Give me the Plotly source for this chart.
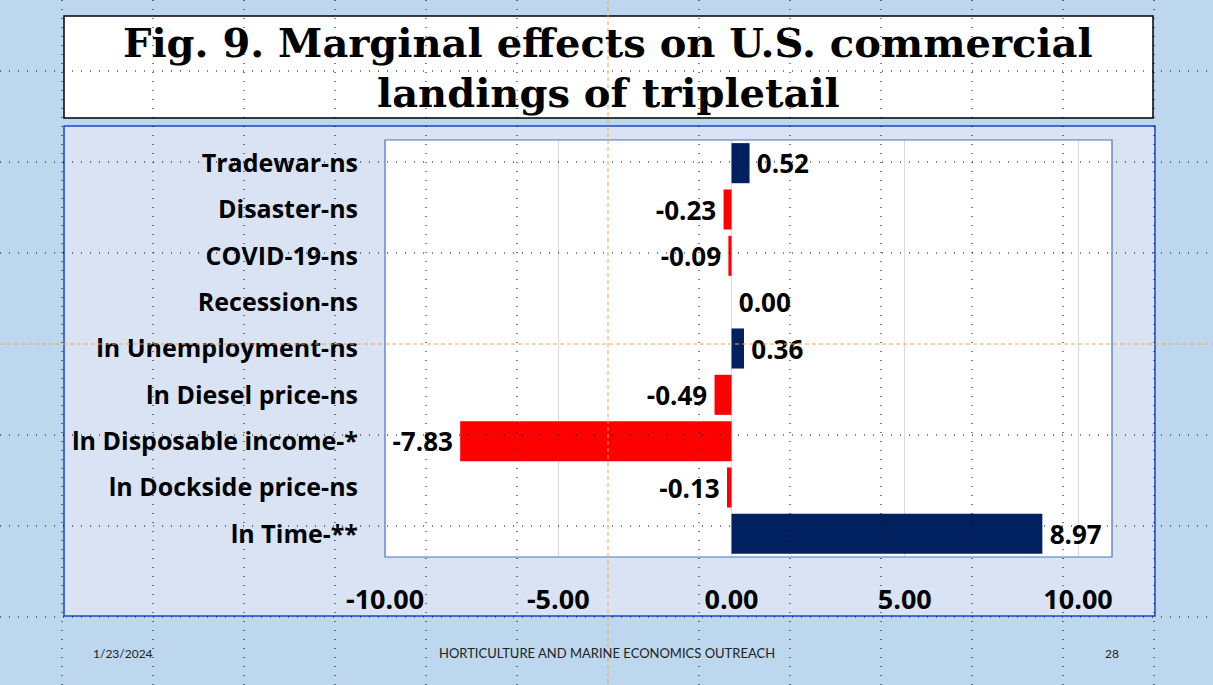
import plotly.graph_objects as go

categories = ["Tradewar-ns", "Disaster-ns", "COVID-19-ns", "Recession-ns",
              "ln Unemployment-ns", "ln Diesel price-ns", "ln Disposable income-*",
              "ln Dockside price-ns", "ln Time-**"]
values = [0.52, -0.23, -0.09, 0.00, 0.36, -0.49, -7.83, -0.13, 8.97]
x_ticks = [-10, -5, 0, 5, 10]
x_tick_labels = ["-10.00", "-5.00", "0.00", "5.00", "10.00"]
title_lines = ["Fig. 9. Marginal effects on U.S. commercial", "landings of tripletail"]
footer_date = "1/23/2024"
footer_center = "HORTICULTURE AND MARINE ECONOMICS OUTREACH"
footer_page = "28"

W, H = 1213, 685
PL, PR, PT, PB = 385, 1112, 140, 557

def fx(p):
    return (p - PL) / (PR - PL)

def fy(p):
    return (PB - p) / (PB - PT)

colors = ["#002060" if v >= 0 else "#FF0000" for v in values]
labels = [("\u2009" + f"{v:.2f}") if v >= 0 else (f"{v:.2f}" + "\u2009") for v in values]

fig = go.Figure(go.Bar(
    y=categories, x=values, orientation="h",
    marker=dict(color=colors, line=dict(width=0)),
    text=labels, textposition="outside",
    textfont=dict(family="Open Sans", size=26, color="black", weight="bold"),
    cliponaxis=False, hoverinfo="skip",
))

shapes = []
# chart area box
shapes.append(dict(type="rect", xref="paper", yref="paper", layer="below",
                   x0=fx(64), x1=fx(1155), y0=fy(616), y1=fy(126),
                   fillcolor="#DAE3F3", line=dict(color="#1A44D0", width=1.5)))
# plot area fill
shapes.append(dict(type="rect", xref="paper", yref="paper", layer="below",
                   x0=0, x1=1, y0=0, y1=1, fillcolor="white", line=dict(width=0)))
# plot area border
shapes.append(dict(type="rect", xref="paper", yref="paper", layer="above",
                   x0=0, x1=1, y0=0, y1=1,
                   line=dict(color="#4472C4", width=1.2)))
# title box
shapes.append(dict(type="rect", xref="paper", yref="paper", layer="below",
                   x0=fx(64), x1=fx(1153), y0=fy(118), y1=fy(16),
                   fillcolor="white", line=dict(color="black", width=1.5)))
# slide guide lines
orange = dict(color="#F4A640", width=1, dash="4px,3px")
dotted = dict(color="black", width=1, dash="1px,8px")
for k in range(13):
    xp = 62 + 91 * k
    shapes.append(dict(type="line", xref="paper", yref="paper", layer="above",
                       x0=fx(xp), x1=fx(xp), y0=fy(0), y1=fy(H),
                       line=orange if k == 6 else dotted))
for k in range(7):
    yp = 71 + 91 * k
    shapes.append(dict(type="line", xref="paper", yref="paper", layer="above",
                       x0=fx(0), x1=fx(W), y0=fy(yp), y1=fy(yp),
                       line=orange if k == 3 else dotted))

annotations = []
for i, line in enumerate(title_lines):
    annotations.append(dict(text=line, xref="paper", yref="paper",
                            x=fx(608), y=fy(43 + 49 * i), xanchor="center", yanchor="middle",
                            showarrow=False,
                            font=dict(family="DejaVu Serif", size=40, color="black", weight="bold")))
annotations.append(dict(text=footer_date, xref="paper", yref="paper", x=fx(91), y=fy(653),
                        xanchor="left", yanchor="middle", showarrow=False,
                        font=dict(family="Lato", size=12, color="#222")))
annotations.append(dict(text=footer_center, xref="paper", yref="paper", x=fx(607), y=fy(653),
                        xanchor="center", yanchor="middle", showarrow=False,
                        font=dict(family="Lato", size=13, color="#222")))
annotations.append(dict(text=footer_page, xref="paper", yref="paper", x=fx(1121), y=fy(653),
                        xanchor="right", yanchor="middle", showarrow=False,
                        font=dict(family="Lato", size=12, color="#222")))

fig.update_layout(
    width=W, height=H,
    margin=dict(l=PL, r=W - PR, t=PT, b=H - PB, autoexpand=False),
    paper_bgcolor="#BDD7EE", plot_bgcolor="white",
    showlegend=False, bargap=0.135,
    shapes=shapes, annotations=annotations,
    xaxis=dict(range=[-10, 10.98], tickvals=x_ticks, ticktext=x_tick_labels,
               showgrid=True, gridcolor="#D9D9D9", gridwidth=1,
               zeroline=True, zerolinecolor="#D9D9D9", zerolinewidth=1,
               showline=False, ticks="", ticklabelstandoff=24,
               tickfont=dict(family="Open Sans", size=27, color="black", weight="bold")),
    yaxis=dict(categoryorder="array", categoryarray=categories, autorange="reversed",
               showgrid=False, zeroline=False, showline=False, ticks="",
               ticklabelstandoff=26,
               tickfont=dict(family="Open Sans", size=25, color="black", weight="bold")),
)

fig.write_html("out.html", config={"displayModeBar": False},
               post_script="document.body.style.margin='0';document.body.style.overflow='hidden';")
